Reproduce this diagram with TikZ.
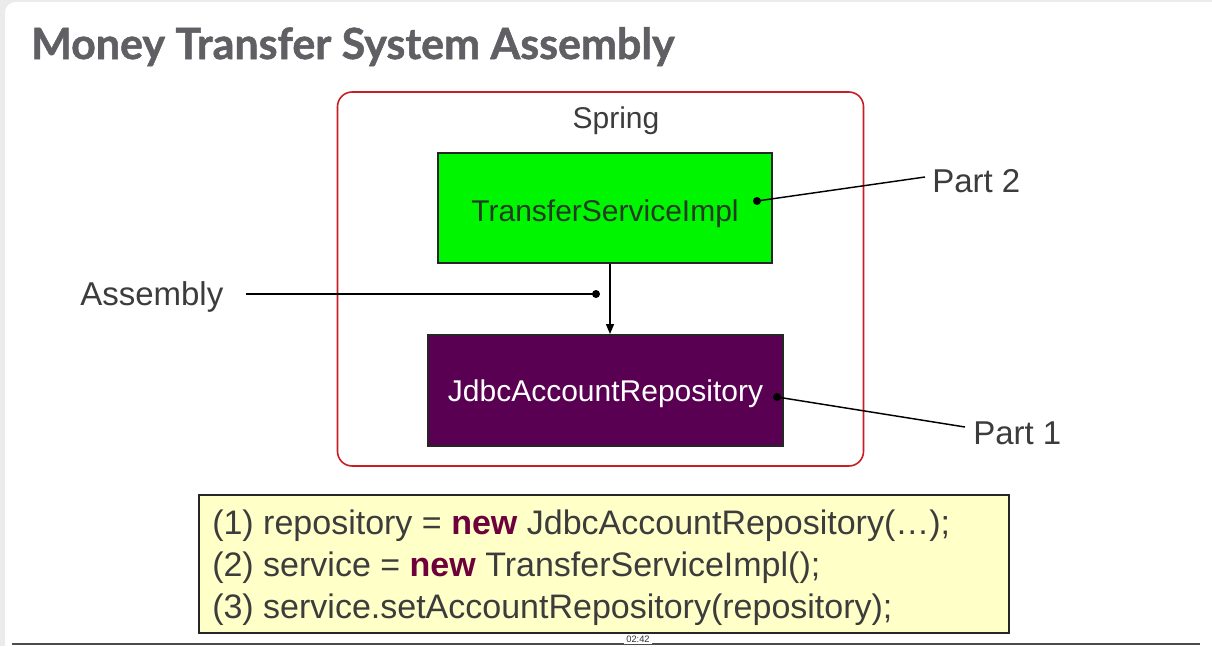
\documentclass[tikz,border=0pt]{standalone}
\usepackage{fontspec}
\setmainfont{Liberation Sans}
\newfontfamily\titlefont{Lato}[BoldFeatures={FakeBold=1.2}]
\usetikzlibrary{arrows.meta}
\definecolor{titlegray}{RGB}{95,95,100}
\definecolor{txtgray}{RGB}{60,60,60}
\definecolor{springred}{RGB}{200,30,35}
\definecolor{svcgreen}{RGB}{0,245,0}
\definecolor{svctext}{RGB}{35,60,35}
\definecolor{repopurple}{RGB}{90,0,82}
\definecolor{codeyellow}{RGB}{255,255,200}
\definecolor{newred}{RGB}{110,0,60}
\definecolor{framegray}{RGB}{235,235,235}
\tikzset{
  px/.style={x=0.75pt,y=-0.75pt},
  compbox/.style={draw=black!85,line width=1.5pt,minimum width=#1,inner sep=0pt},
  lbl/.style={text=txtgray,font=\fontsize{24.75}{28}\selectfont,inner sep=0pt},
  conn/.style={draw=black,line width=1.1pt},
  dot/.style={circle,fill=black,inner sep=0pt,minimum size=6pt},
}
\begin{document}
\begin{tikzpicture}[px]
\useasboundingbox (0,0) rectangle (1212,646);
\fill[framegray] (0,0) rectangle (1212,646);
\fill[white,rounded corners=8pt] (5,2) rectangle (1230,660);
% title
\node[anchor=base west,inner sep=0pt,text=titlegray,font=\titlefont\bfseries\fontsize{32.2}{35}\selectfont] (title) at (31,59) {Money Transfer System Assembly};
% spring container
\node[draw=springred,line width=1.2pt,rounded corners=11pt,minimum width=526*0.75pt,minimum height=374*0.75pt,inner sep=0pt] (spring) at (600.5,279) {};
\node[anchor=base,text=txtgray,font=\fontsize{22.5}{26}\selectfont,inner sep=0pt] (springlbl) at (616,128) {Spring};
% components
\node[compbox=334*0.75pt,minimum height=110*0.75pt,fill=svcgreen] (svc) at (605,208) {};
\node[anchor=base,text=svctext,font=\fontsize{22.5}{26}\selectfont,inner sep=0pt] (svclbl) at (605,221) {TransferServiceImpl};
\node[compbox=355*0.75pt,minimum height=111*0.75pt,fill=repopurple] (repo) at (605.5,390.5) {};
\node[anchor=base,text=white,font=\fontsize{22.5}{26}\selectfont,inner sep=0pt] (repolbl) at (605.5,401) {JdbcAccountRepository};
\draw[conn,-{Triangle[length=7.5pt,width=6pt]}] (svc.south -| 610,0) -- (repo.north -| 610,0);
% labels and pointers
\node[lbl,anchor=base west] (part2) at (932,192) {Part 2};
\node[lbl,anchor=base west] (part1) at (973,444) {Part 1};
\node[lbl,anchor=base west] (assembly) at (80,305) {Assembly};
\node[dot] (d2) at (757,201) {};
\node[dot] (d1) at (777,397) {};
\node[dot] (da) at (596,294) {};
\coordinate (p2) at (925,177);
\coordinate (p1) at (965,427);
\coordinate (pa) at (246,294);
\draw[conn] (d2.center) -- (p2);
\draw[conn] (d1.center) -- (p1);
\draw[conn] (pa) -- (da.center);
% code box
\node[draw=black!85,line width=1.3pt,fill=codeyellow,minimum width=810*0.75pt,minimum height=138*0.75pt,inner sep=0pt] (code) at (604,564) {};
\node[anchor=base west,inner sep=0pt,text=txtgray,align=left,font=\fontsize{25.5}{31.5}\selectfont] (codetext) at (212,618)
{(1) repository = \textbf{\color{newred}new} JdbcAccountRepository(…);\\
(2) service = \textbf{\color{newred}new} TransferServiceImpl();\\
(3) service.setAccountRepository(repository);};
% footer
\draw[black!70,line width=1.2pt] (12,644) -- (1200,644);
\node[fill=white,inner sep=1.5pt,text=black!80,font=\fontsize{7}{8}\selectfont] (time) at (638,639) {02:42};
\end{tikzpicture}
\end{document}
